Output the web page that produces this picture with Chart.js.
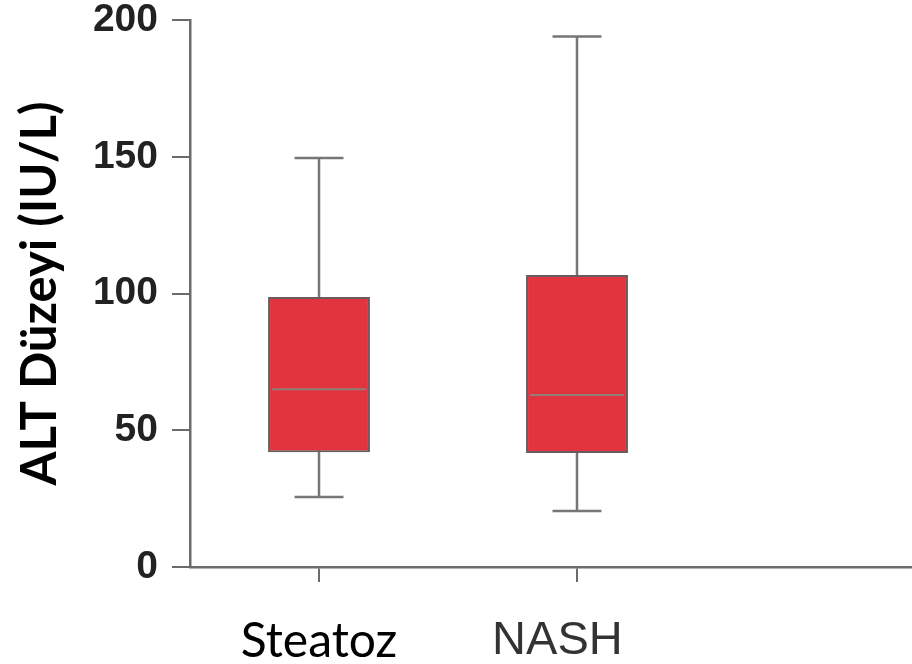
<!DOCTYPE html>
<html>
<head>
<meta charset="utf-8">
<script src="https://cdn.jsdelivr.net/npm/chart.js@4"></script>
<style>
  html, body { margin: 0; padding: 0; background: #fff; overflow: hidden; }
  #wrap { width: 980px; height: 664px; }
</style>
</head>
<body>
<div id="wrap"><canvas id="altChart"></canvas></div>
<script>
// groups (third slot is empty, it only keeps the axis running to the right edge)
const groups = ["Steatoz", "NASH   ", ""];
const whiskerLow = [25.6, 20.5];
const q1 = [42.0, 41.7];
const median = [65.0, 62.9];
const q3 = [98.7, 106.8];
const whiskerHigh = [149.5, 194.0];
const yTicks = [0, 50, 100, 150, 200];

const axisGray = "#6b6b6b";

/* ===== whiskers + median, drawn through the chart scales ===== */
const boxWhiskers = {
    id: "boxWhiskers",
    beforeDatasetsDraw(chart) {
        const y = chart.scales.y;
        const meta = chart.getDatasetMeta(0);
        const ctx = chart.ctx;
        ctx.save();
        ctx.strokeStyle = "#767676";
        ctx.lineWidth = 2.5;
        meta.data.forEach((bar, i) => {
            if (whiskerLow[i] === undefined) return;
            const x = bar.x;
            const half = bar.width * 0.24;
            const top = y.getPixelForValue(whiskerHigh[i]);
            const bot = y.getPixelForValue(whiskerLow[i]);
            ctx.beginPath();
            ctx.moveTo(x, top);
            ctx.lineTo(x, bot);
            ctx.moveTo(x - half, top);
            ctx.lineTo(x + half, top);
            ctx.moveTo(x - half, bot);
            ctx.lineTo(x + half, bot);
            ctx.stroke();
        });
        ctx.restore();
    },
    afterDatasetsDraw(chart) {
        const y = chart.scales.y;
        const meta = chart.getDatasetMeta(0);
        const ctx = chart.ctx;
        ctx.save();
        ctx.strokeStyle = "#8f7f78";
        ctx.lineWidth = 2;
        meta.data.forEach((bar, i) => {
            if (median[i] === undefined) return;
            const half = bar.width / 2 - 4;
            const my = y.getPixelForValue(median[i]);
            ctx.beginPath();
            ctx.moveTo(bar.x - half, my);
            ctx.lineTo(bar.x + half, my);
            ctx.stroke();
        });
        ctx.restore();
    }
};

new Chart(document.getElementById("altChart"), {
    type: "bar",
    data: {
        labels: groups,
        datasets: [{
            data: q1.map((v, i) => [v, q3[i]]),
            backgroundColor: "#e2343f",
            borderColor: "#6a5c5c",
            borderWidth: 2,
            borderSkipped: false,
            barPercentage: 0.395,
            categoryPercentage: 1
        }]
    },
    options: {
        responsive: true,
        maintainAspectRatio: false,
        animation: false,
        layout: { padding: { top: 20, right: 16, left: 0, bottom: 0 } },
        plugins: { legend: { display: false }, tooltip: { enabled: false } },
        scales: {
            x: {
                offset: true,
                afterFit: s => { s.height = 97; s.paddingLeft = 0; s.paddingRight = 0; },
                grid: {
                    offset: false,
                    drawOnChartArea: false,
                    drawTicks: true,
                    tickLength: 15,
                    color: ctx => ctx.index === 2 ? "rgba(0,0,0,0)" : axisGray,
                    lineWidth: 2
                },
                border: { color: axisGray, width: 2.5 },
                ticks: {
                    padding: 36,
                    color: ctx => ctx.index === 0 ? "#000" : "#333",
                    font: ctx => ctx.index === 0
                        ? { family: "Lato", size: 48, lineHeight: 1 }
                        : { family: "Liberation Sans", size: 47, lineHeight: 1 }
                }
            },
            y: {
                min: 0,
                max: 200,
                afterFit: s => { s.width = 190; s.paddingTop = 0; s.paddingBottom = 0; },
                afterBuildTicks: s => { s.ticks = yTicks.map(v => ({ value: v })); },
                grid: {
                    drawOnChartArea: false,
                    drawTicks: true,
                    tickLength: 18,
                    color: axisGray,
                    lineWidth: 2
                },
                border: { color: axisGray, width: 2.5 },
                ticks: {
                    padding: 14,
                    color: "#222",
                    font: { family: "Liberation Sans", size: 39, weight: "bold" }
                },
                title: {
                    display: true,
                    text: "ALT Düzeyi (IU/L)",
                    color: "#000",
                    padding: { top: 16, bottom: 0 },
                    font: { family: "Lato", size: 49, weight: "bold", lineHeight: 1 }
                }
            }
        }
    },
    plugins: [boxWhiskers]
});
</script>
</body>
</html>
